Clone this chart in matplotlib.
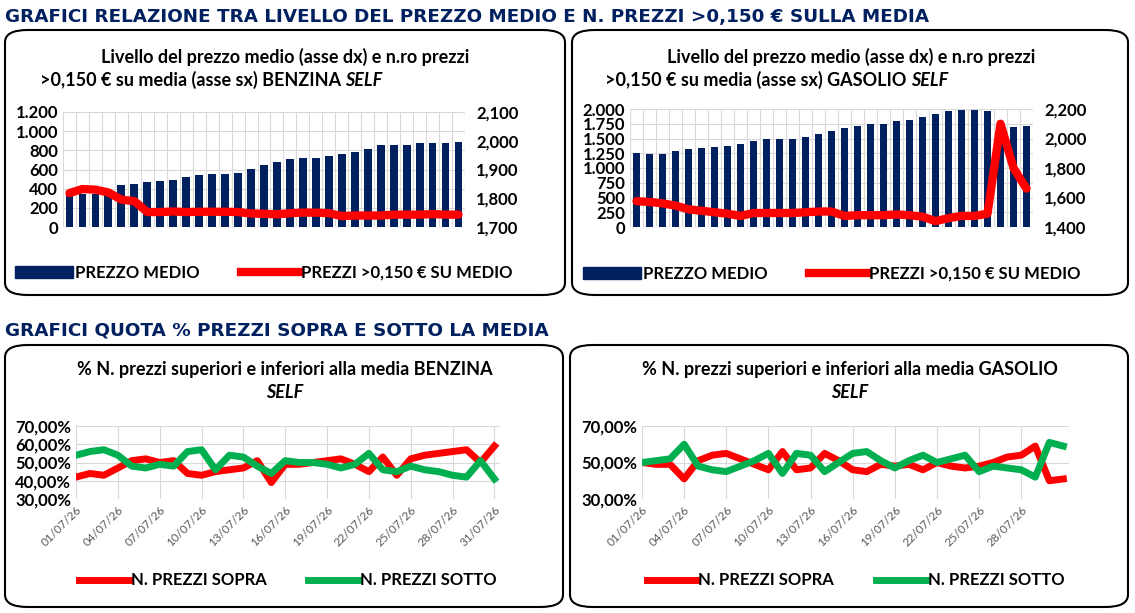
import matplotlib
matplotlib.use("Agg")
import matplotlib.pyplot as plt
from matplotlib.patches import FancyBboxPatch, Patch
from matplotlib.lines import Line2D
import numpy as np

plt.rcParams['font.family'] = ['Lato', 'DejaVu Sans']

NAVY = '#002060'
RED = '#FF0000'
GREEN = '#00B050'

# --- data ---
benz_medio = [330, 340, 340, 360, 440, 450, 470, 480, 490, 520, 545, 555, 555, 565, 605, 645,
              680, 710, 720, 720, 740, 760, 780, 810, 855, 855, 855, 875, 875, 875, 890]
benz_sopra015 = [1818, 1832, 1830, 1820, 1795, 1790, 1752, 1752, 1754, 1752, 1753, 1753, 1753, 1752,
                 1747, 1746, 1744, 1748, 1750, 1750, 1748, 1738, 1740, 1740, 1740, 1743, 1743, 1743,
                 1745, 1743, 1743]
gas_medio = [1250, 1230, 1230, 1280, 1330, 1345, 1360, 1380, 1400, 1450, 1490, 1500, 1500, 1520,
             1570, 1620, 1670, 1720, 1740, 1740, 1790, 1820, 1870, 1910, 1960, 1980, 1980, 1960,
             1700, 1690, 1720]
gas_sopra015 = [1575, 1570, 1560, 1545, 1520, 1510, 1500, 1490, 1475, 1495, 1495, 1495, 1495, 1500,
                1505, 1505, 1475, 1480, 1480, 1480, 1485, 1480, 1470, 1440, 1460, 1475, 1475, 1490,
                2100, 1800, 1660]

benz_sopra = [42, 44, 43, 47, 51, 52, 50, 51, 44, 43, 45, 46, 47, 51, 39, 49, 49, 50, 51, 52, 49,
              45, 53, 43, 52, 54, 55, 56, 57, 50, 59]
benz_sotto = [54, 56, 57, 54, 48, 47, 49, 48, 56, 57, 46, 54, 53, 48, 44, 51, 50, 50, 49, 47, 49,
              55, 46, 45, 48, 46, 45, 43, 42, 51, 41]
gas_sopra = [50, 49, 49, 41, 51, 54, 55, 52, 49, 46, 56, 46, 47, 55, 51, 46, 45, 49, 48, 49, 46,
             50, 48, 47, 48, 50, 53, 54, 59, 40, 41]
gas_sotto = [50, 51, 52, 60, 48, 46, 45, 48, 51, 55, 44, 55, 54, 45, 50, 55, 56, 51, 47, 51, 54,
             50, 52, 54, 45, 48, 47, 46, 42, 61, 59]

dates = ['%02d/07/26' % d for d in range(1, 32)]

W, H = 1135, 613
fig = plt.figure(figsize=(W / 100, H / 100), dpi=100)


def rect(x0, y0, x1, y1):
    return [x0 / W, 1 - y1 / H, (x1 - x0) / W, (y1 - y0) / H]


def panel(x0, y0, x1, y1):
    p = FancyBboxPatch((x0 / W, 1 - y1 / H), (x1 - x0) / W, (y1 - y0) / H,
                       boxstyle="round,pad=0,rounding_size=0.02", transform=fig.transFigure,
                       fill=False, lw=1.5, ec='black')
    fig.patches.append(p)


def title2(cx, y1, y2, line1, line2a, line2b):
    fig.text(cx / W, 1 - y1 / H, line1, ha='center', va='center', fontsize=13, fontweight='bold')
    fig.text((cx + 60) / W, 1 - y2 / H, line2a, ha='right', va='center', fontsize=13,
             fontweight='bold')
    fig.text((cx + 60) / W, 1 - y2 / H, line2b, ha='left', va='center', fontsize=13,
             fontweight='bold', style='italic')


for b in [(5, 30, 565, 295), (572, 30, 1128, 295), (5, 345, 563, 607), (570, 345, 1128, 607)]:
    panel(*b)

fig.text(5 / W, 1 - 17 / H, 'GRAFICI RELAZIONE TRA LIVELLO DEL PREZZO MEDIO E N. PREZZI >0,150 € SULLA MEDIA',
         fontsize=13.2, fontweight='bold', color=NAVY, va='center', family='DejaVu Sans')
fig.text(5 / W, 1 - 331 / H, 'GRAFICI QUOTA % PREZZI SOPRA E SOTTO LA MEDIA',
         fontsize=13.2, fontweight='bold', color=NAVY, va='center', family='DejaVu Sans')


def top_chart(r, bars, line, ylim, yt, ylab, y2lim, y2t, y2lab):
    ax = fig.add_axes(r)
    x = np.arange(len(bars))
    ax.bar(x, bars, width=0.6, color=NAVY, zorder=2)
    ax.set_xlim(-0.5, len(bars) - 0.5)
    ax.set_ylim(*ylim)
    ax.set_yticks(yt)
    ax.set_yticklabels(ylab, fontsize=12, fontweight='bold')
    ax.set_xticks(np.arange(-0.5, len(bars), 1), minor=False)
    ax.set_xticklabels([])
    ax.tick_params(length=0)
    ax.grid(True, color='#D9D9D9', lw=0.8, zorder=0)
    for s in ax.spines.values():
        s.set_visible(False)
    ax2 = ax.twinx()
    ax2.plot(x, line, color=RED, lw=6, solid_capstyle='round', zorder=3)
    ax2.set_ylim(*y2lim)
    ax2.set_yticks(y2t)
    ax2.set_yticklabels(y2lab, fontsize=12, fontweight='bold')
    ax2.tick_params(length=0, pad=8)
    for s in ax2.spines.values():
        s.set_visible(False)
    h = [Patch(color=NAVY), Line2D([], [], color=RED, lw=6)]
    ax.legend(h, ['PREZZO MEDIO', 'PREZZI >0,150 € SU MEDIO'], loc='upper center',
              bbox_to_anchor=(0.5, -0.2), ncol=2, frameon=False, handlelength=3.5,
              handletextpad=0.1, columnspacing=2.5, prop={'weight': 'bold', 'size': 12})


top_chart(rect(63, 112, 465, 227), benz_medio, benz_sopra015, (0, 1200),
          range(0, 1201, 200), ['0', '200', '400', '600', '800', '1.000', '1.200'],
          (1700, 2100), range(1700, 2101, 100), ['1,700', '1,800', '1,900', '2,000', '2,100'])
top_chart(rect(630, 109, 1033, 227), gas_medio, gas_sopra015, (0, 2000),
          range(0, 2001, 250), ['0', '250', '500', '750', '1.000', '1.250', '1.500', '1.750', '2.000'],
          (1400, 2200), range(1400, 2201, 200), ['1,400', '1,600', '1,800', '2,000', '2,200'])

title2(285, 57, 80, 'Livello del prezzo medio (asse dx) e n.ro prezzi',
       '>0,150 € su media (asse sx) BENZINA ', 'SELF')
title2(851, 57, 80, 'Livello del prezzo medio (asse dx) e n.ro prezzi',
       '>0,150 € su media (asse sx) GASOLIO ', 'SELF')


def bottom_chart(r, red, green, yt, ylab, ndates):
    ax = fig.add_axes(r)
    x = np.arange(len(red))
    ax.plot(x, red, color=RED, lw=5, zorder=3)
    ax.plot(x, green, color=GREEN, lw=5, zorder=3)
    ax.set_xlim(0, len(red) - 1 + 0.4)
    ax.set_ylim(yt[0], yt[-1])
    ax.set_yticks(yt)
    ax.set_yticklabels(ylab, fontsize=12, fontweight='bold')
    ticks = list(range(0, ndates, 3))
    ax.set_xticks(ticks)
    ax.set_xticklabels([dates[i] for i in ticks], rotation=45, ha='right', rotation_mode='anchor',
                       fontsize=8.5, color='#595959')
    ax.tick_params(length=0)
    ax.grid(True, color='#D9D9D9', lw=0.8, zorder=0)
    for s in ax.spines.values():
        s.set_visible(False)
    h = [Line2D([], [], color=RED, lw=5), Line2D([], [], color=GREEN, lw=5)]
    ax.legend(h, ['N. PREZZI SOPRA', 'N. PREZZI SOTTO'], loc='upper center',
              bbox_to_anchor=(0.5, -0.8), ncol=2, frameon=False, handlelength=3,
              handletextpad=0.1, columnspacing=2.5, prop={'weight': 'bold', 'size': 12})


bottom_chart(rect(76, 426, 500, 499), benz_sopra, benz_sotto, [30, 40, 50, 60, 70],
             ['30,00%', '40,00%', '50,00%', '60,00%', '70,00%'], 31)
bottom_chart(rect(642, 426, 1069, 499), gas_sopra, gas_sotto, [30, 50, 70],
             ['30,00%', '50,00%', '70,00%'], 29)

fig.text(285 / W, 1 - 370 / H, '% N. prezzi superiori e inferiori alla media BENZINA',
         ha='center', va='center', fontsize=13, fontweight='bold')
fig.text(285 / W, 1 - 393 / H, 'SELF', ha='center', va='center', fontsize=13,
         fontweight='bold', style='italic')
fig.text(850 / W, 1 - 370 / H, '% N. prezzi superiori e inferiori alla media GASOLIO',
         ha='center', va='center', fontsize=13, fontweight='bold')
fig.text(850 / W, 1 - 393 / H, 'SELF', ha='center', va='center', fontsize=13,
         fontweight='bold', style='italic')

fig.savefig('out.png', dpi=100)
